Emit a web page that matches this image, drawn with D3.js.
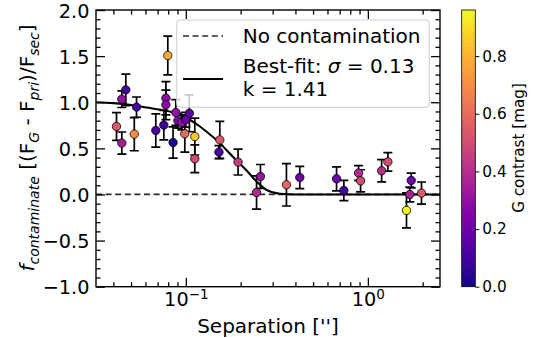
<!DOCTYPE html>
<html>
<head>
<meta charset="utf-8">
<script src="https://cdn.jsdelivr.net/npm/d3@7"></script>
<style>
  html, body { margin: 0; padding: 0; background: #fff; }
  svg { display: block; font-family: "DejaVu Sans", sans-serif; }
</style>
</head>
<body>
<svg id="chart" width="536" height="338"></svg>
<script>
// ---------------- data ----------------
const separation = [0.0416, 0.0445, 0.0445, 0.0468, 0.0521, 0.0536, 0.0684, 0.0757, 0.0777, 0.0777,
  0.0796, 0.0851, 0.0881, 0.0904, 0.0951, 0.0987, 0.1000, 0.1045, 0.112, 0.112,
  0.1537, 0.152, 0.1936, 0.257, 0.2446, 0.357, 0.4227, 0.673, 0.738, 0.889,
  0.912, 1.19, 1.288, 1.73, 1.70, 1.63, 1.97];
const fContaminate = [0.737, 1.033, 0.557, 1.134, 0.654, 0.947, 0.694, 0.752, 1.044, 0.972,
  1.506, 0.563, 0.889, 0.800, 0.780, 0.658, 0.810, 0.880, 0.628, 0.387,
  0.592, 0.459, 0.351, 0.195, 0.022, 0.105, 0.184, 0.170, 0.043, 0.232,
  0.148, 0.257, 0.354, 0.152, 0.000, -0.173, 0.015];
const fError = [0.15, 0.09, 0.12, 0.17, 0.18, 0.11, 0.18, 0.16, 0.18, 0.16,
  0.21, 0.17, 0.14, 0.08, 0.08, 0.20, 0.08, 0.20, 0.20, 0.15,
  0.20, 0.07, 0.14, 0.13, 0.18, 0.23, 0.12, 0.13, 0.11, 0.08,
  0.12, 0.12, 0.10, 0.08, 0.08, 0.19, 0.12];
const gContrast = [0.55, 0.30, 0.35, 0.10, 0.70, 0.10, 0.12, 0.08, 0.28, 0.28,
  0.78, 0.02, 0.30, 0.25, 0.30, 0.60, 0.20, 0.15, 0.85, 0.50,
  0.55, 0.12, 0.45, 0.30, 0.38, 0.58, 0.20, 0.20, 0.10, 0.38,
  0.50, 0.40, 0.50, 0.20, 0.35, 0.95, 0.55];

// best-fit curve
const fitSep = [0.032, 0.04, 0.05, 0.061, 0.073, 0.085, 0.095, 0.105, 0.118, 0.13,
  0.1475, 0.1675, 0.1936, 0.2156, 0.2446, 0.2774, 0.3284, 0.4, 1.0, 2.5];
const fitF = [1.0, 0.99, 0.97, 0.943, 0.918, 0.889, 0.85, 0.81, 0.745, 0.68,
  0.59, 0.48, 0.35, 0.26, 0.14, 0.05, 0.008, 0.0, 0.0, 0.0];

const yTicks = [-1.0, -0.5, 0.0, 0.5, 1.0, 1.5, 2.0];
const xMajorTicks = [0.1, 1];
const xTickLabels = [["10", "\u22121"], ["10", "0"]];
const cbTicks = [0.0, 0.2, 0.4, 0.6, 0.8];
const legendLabels = ["No contamination", "Best-fit: ", "\u03c3", " = 0.13", "k = 1.41"];

// ---------------- layout ----------------
const L = 96, R = 440, T = 10, B = 286.7;
const svg = d3.select("#chart");
const x = d3.scaleLog().domain([0.0321, 2.49]).range([L, R]);
const y = d3.scaleLinear().domain([-1, 2]).range([B, T]);
const cMax = 0.96;
const color = v => d3.interpolatePlasma(v / cMax);

const FS = 20, FT = 19.3;

// clip
svg.append("defs").append("clipPath").attr("id", "clip")
  .append("rect").attr("x", L).attr("y", T).attr("width", R - L).attr("height", B - T);

const plot = svg.append("g").attr("clip-path", "url(#clip)");

// zero dashed line
plot.append("line")
  .attr("x1", L).attr("x2", R).attr("y1", y(0)).attr("y2", y(0))
  .attr("stroke", "#2a2a2a").attr("stroke-width", 1.7).attr("stroke-dasharray", "6,3.6");

// fit curve
const fitData = fitSep.map((s, i) => [s, fitF[i]]);
plot.append("path").datum(fitData)
  .attr("d", d3.line().x(d => x(d[0])).y(d => y(d[1])).curve(d3.curveMonotoneX))
  .attr("fill", "none").attr("stroke", "#000").attr("stroke-width", 2.1);

// error bars
const pts = separation.map((s, i) => ({ s, f: fContaminate[i], e: fError[i], c: gContrast[i] }));
const eb = plot.append("g").attr("stroke", "#000").attr("stroke-width", 1.7);
pts.forEach(p => {
  const cx = x(p.s);
  eb.append("line").attr("x1", cx).attr("x2", cx).attr("y1", y(p.f - p.e)).attr("y2", y(p.f + p.e));
  [p.f - p.e, p.f + p.e].forEach(v => {
    eb.append("line").attr("x1", cx - 4.5).attr("x2", cx + 4.5).attr("y1", y(v)).attr("y2", y(v));
  });
});

// points
plot.append("g").selectAll("circle").data(pts).join("circle")
  .attr("cx", d => x(d.s)).attr("cy", d => y(d.f)).attr("r", 4.2)
  .attr("fill", d => color(d.c)).attr("stroke", "#000").attr("stroke-width", 0.8);

// ---------------- axes ----------------
const minorY = d3.range(-10, 21).map(v => v / 10).filter(v => Math.abs(v * 2 - Math.round(v * 2)) > 1e-6);
const minorX = [];
[0.01, 0.1, 1].forEach(dec => { for (let k = 2; k <= 9; k++) { const v = k * dec; if (v >= 0.0321 && v <= 2.49) minorX.push(v); } });

function styleAxis(g) {
  g.select(".domain").remove();
  g.selectAll(".tick line").attr("stroke", "#000").attr("stroke-width", 1.3);
}

// left
svg.append("g").attr("transform", `translate(${L},0)`)
  .call(d3.axisLeft(y).tickValues(yTicks).tickSize(-9).tickPadding(6.5)
    .tickFormat(d => d3.format(".1f")(d).replace("-", "\u2212")))
  .call(styleAxis)
  .call(g => g.selectAll(".tick text").attr("font-size", FT).attr("fill", "#000").attr("dy", "0.37em")
    .attr("font-family", "DejaVu Sans"));
svg.append("g").attr("transform", `translate(${L},0)`)
  .call(d3.axisLeft(y).tickValues(minorY).tickSize(-4.5).tickFormat(""))
  .call(styleAxis);
// right
svg.append("g").attr("transform", `translate(${R},0)`)
  .call(d3.axisRight(y).tickValues(yTicks).tickSize(-9).tickFormat(""))
  .call(styleAxis);
svg.append("g").attr("transform", `translate(${R},0)`)
  .call(d3.axisRight(y).tickValues(minorY).tickSize(-4.5).tickFormat(""))
  .call(styleAxis);
// bottom
svg.append("g").attr("transform", `translate(0,${B})`)
  .call(d3.axisBottom(x).tickValues(xMajorTicks).tickSize(-9).tickPadding(7).tickFormat(() => ""))
  .call(styleAxis)
  .call(g => g.selectAll(".tick text").each(function (d, i) {
    const t = d3.select(this).attr("font-size", FT).attr("fill", "#000").attr("font-family", "DejaVu Sans")
      .attr("y", 19.8).attr("dy", null);
    t.text(null);
    t.append("tspan").text(xTickLabels[i][0]);
    t.append("tspan").attr("font-size", FT * 0.7).attr("dy", -8).text(xTickLabels[i][1]);
  }));
svg.append("g").attr("transform", `translate(0,${B})`)
  .call(d3.axisBottom(x).tickValues(minorX).tickSize(-4.5).tickFormat(""))
  .call(styleAxis);
// top
svg.append("g").attr("transform", `translate(0,${T})`)
  .call(d3.axisTop(x).tickValues(xMajorTicks).tickSize(-9).tickFormat(""))
  .call(styleAxis);
svg.append("g").attr("transform", `translate(0,${T})`)
  .call(d3.axisTop(x).tickValues(minorX).tickSize(-4.5).tickFormat(""))
  .call(styleAxis);

// frame
svg.append("rect").attr("x", L).attr("y", T).attr("width", R - L).attr("height", B - T)
  .attr("fill", "none").attr("stroke", "#000").attr("stroke-width", 1.4);

// axis labels
svg.append("text").attr("x", (L + R) / 2).attr("y", 333).attr("text-anchor", "middle")
  .attr("font-size", FS).attr("fill", "#000").text("Separation ['']");

const yl = svg.append("text").attr("transform", "translate(34,148) rotate(-90)")
  .attr("text-anchor", "middle").attr("font-size", FS).attr("fill", "#000");
const sub = FS * 0.7, sh = 4.5;
yl.append("tspan").attr("font-style", "italic").text("f");
yl.append("tspan").attr("font-style", "italic").attr("font-size", sub).attr("dy", sh).text("contaminate");
yl.append("tspan").attr("dy", -sh).text(" [(F");
yl.append("tspan").attr("font-style", "italic").attr("font-size", sub).attr("dy", sh).text("G");
yl.append("tspan").attr("dy", -sh).text(" - F");
yl.append("tspan").attr("font-style", "italic").attr("font-size", sub).attr("dy", sh).text("pri");
yl.append("tspan").attr("dy", -sh).text(")/F");
yl.append("tspan").attr("font-style", "italic").attr("font-size", sub).attr("dy", sh).text("sec");
yl.append("tspan").attr("dy", -sh).text("]");

// ---------------- legend ----------------
const lg = svg.append("g");
lg.append("rect").attr("x", 176.7).attr("y", 20).attr("width", 252.6).attr("height", 87.3).attr("rx", 3.5)
  .attr("fill", "#fff").attr("fill-opacity", 0.8).attr("stroke", "#cccccc").attr("stroke-width", 1);
lg.append("line").attr("x1", 183).attr("x2", 223).attr("y1", 36).attr("y2", 36)
  .attr("stroke", "#2a2a2a").attr("stroke-width", 1.7).attr("stroke-dasharray", "6,3.6");
lg.append("line").attr("x1", 183).attr("x2", 223).attr("y1", 79).attr("y2", 79)
  .attr("stroke", "#000").attr("stroke-width", 2.1);
lg.append("text").attr("x", 242.7).attr("y", 43.3).attr("font-size", FS).attr("fill", "#000").text(legendLabels[0]);
const l2 = lg.append("text").attr("x", 242.7).attr("y", 72.5).attr("font-size", FS).attr("fill", "#000");
l2.append("tspan").text(legendLabels[1]);
l2.append("tspan").attr("font-style", "italic").text(legendLabels[2]);
l2.append("tspan").text(legendLabels[3]);
lg.append("text").attr("x", 242.7).attr("y", 96).attr("font-size", FS).attr("fill", "#000").text(legendLabels[4]);

// ---------------- colorbar ----------------
const cbX = 461.7, cbW = 13.6;
const cy = d3.scaleLinear().domain([0, cMax]).range([B, T]);
const grad = svg.select("defs").append("linearGradient").attr("id", "cbgrad")
  .attr("x1", 0).attr("y1", 1).attr("x2", 0).attr("y2", 0);
d3.range(0, 1.0001, 0.02).forEach(t => grad.append("stop").attr("offset", t).attr("stop-color", d3.interpolatePlasma(t)));
svg.append("rect").attr("x", cbX).attr("y", T).attr("width", cbW).attr("height", B - T)
  .attr("fill", "url(#cbgrad)").attr("stroke", "#000").attr("stroke-width", 0.8);
svg.append("g").attr("transform", `translate(${cbX + cbW},0)`)
  .call(d3.axisRight(cy).tickValues(cbTicks).tickSize(4).tickPadding(3).tickFormat(d3.format(".1f")))
  .call(g => g.select(".domain").remove())
  .call(g => g.selectAll(".tick line").attr("stroke", "#000").attr("stroke-width", 1))
  .call(g => g.selectAll(".tick text").attr("font-size", 15.3).attr("fill", "#000").attr("font-family", "DejaVu Sans"));
svg.append("text").attr("transform", "translate(524,148) rotate(-90)").attr("text-anchor", "middle")
  .attr("font-size", 15.2).attr("fill", "#000").text("G contrast [mag]");
</script>
</body>
</html>
